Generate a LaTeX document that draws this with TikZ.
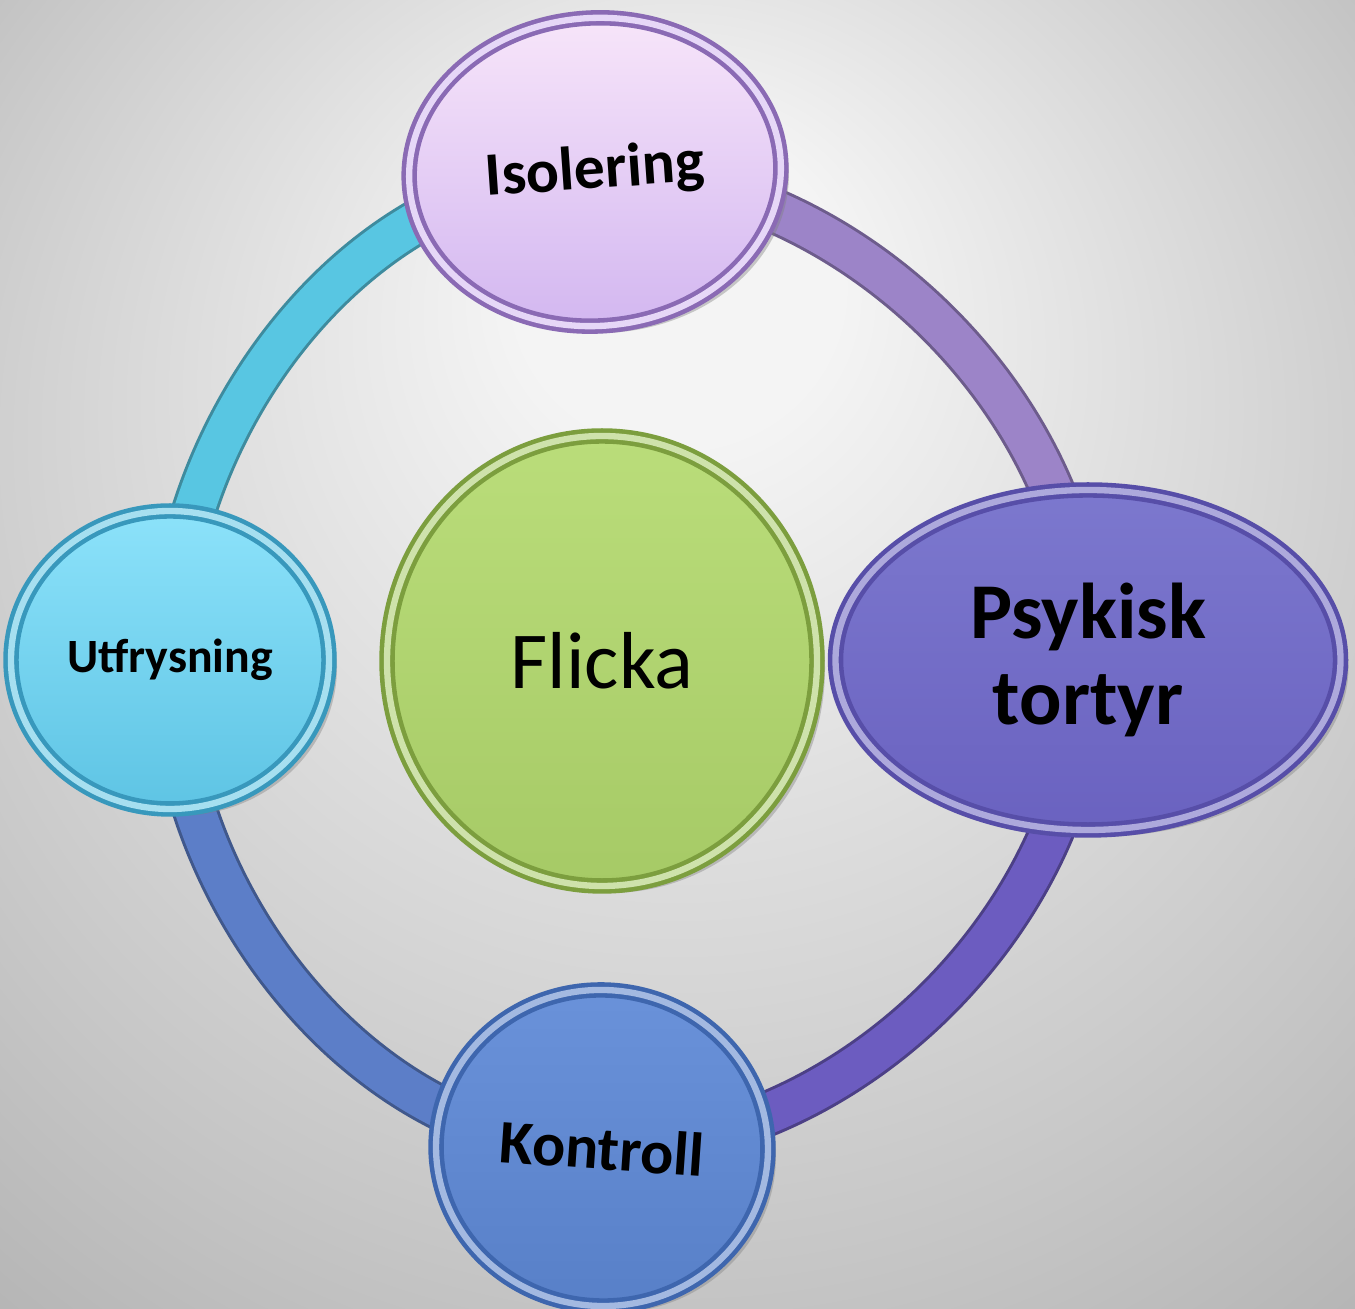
\documentclass[tikz,border=0pt]{standalone}
\usepackage{fontspec}
\setmainfont{Carlito}
\usetikzlibrary{shapes.geometric,shadows}

\definecolor{bgLight}{HTML}{F4F4F4}
\definecolor{bgMid}{HTML}{C6C6C6}
\definecolor{bgDark}{HTML}{9E9E9E}
\definecolor{isoTop}{HTML}{F8E6FA}
\definecolor{isoBot}{HTML}{D2B6F0}
\definecolor{isoRim}{HTML}{8A6AB4}
\definecolor{psyTop}{HTML}{7C78CE}
\definecolor{psyBot}{HTML}{6A62C0}
\definecolor{psyRim}{HTML}{574EA8}
\definecolor{utfTop}{HTML}{8CE2FA}
\definecolor{utfBot}{HTML}{5EC4E4}
\definecolor{utfRim}{HTML}{3898BC}
\definecolor{konTop}{HTML}{6A92DA}
\definecolor{konBot}{HTML}{5880C8}
\definecolor{konRim}{HTML}{3E66AE}
\definecolor{fliTop}{HTML}{BADD7A}
\definecolor{fliBot}{HTML}{A6CA66}
\definecolor{fliRim}{HTML}{7C9E3E}
\definecolor{ringTL}{HTML}{58C6E2}
\definecolor{ringTR}{HTML}{9C84C8}
\definecolor{ringBR}{HTML}{6C5CC0}
\definecolor{ringBL}{HTML}{5C7EC8}

\pgfdeclarelayer{back}
\pgfdeclarelayer{band}
\pgfsetlayers{back,band,main}

\pgfdeclareradialshading{bgglow}{\pgfpoint{0bp}{16bp}}{color(0bp)=(bgLight); color(6bp)=(bgLight); color(30bp)=(bgMid); color(50bp)=(bgDark)}

\tikzset{
  bubble/.style n args={3}{ellipse, inner sep=0pt, align=center, text=black,
    top color=#1, bottom color=#2, draw=#3, line width=1.3pt,
    double=white!45!#2, double distance=1.8pt,
    drop shadow={shadow xshift=0.08cm, shadow yshift=-0.07cm, opacity=0.4}},
  bandline/.style={line width=0.4cm, draw=#1, looseness=0.93,
    preaction={draw=#1!70!black, line width=0.46cm}},
}

\begin{document}
\begin{tikzpicture}
  % backdrop
  \begin{pgfonlayer}{back}
    \shade[shading=bgglow] (0,0) rectangle (13.55,13.09);
  \end{pgfonlayer}
  \useasboundingbox (0,0) rectangle (13.55,13.09);

  % outer bubbles
  \node[bubble={isoTop}{isoBot}{isoRim}, minimum width=3.72cm, minimum height=3.08cm,
    rotate=4, font=\bfseries\fontsize{17.5}{20}\selectfont] (iso) at (5.95,11.37) {Isolering};
  \node[bubble={psyTop}{psyBot}{psyRim}, minimum width=5.05cm, minimum height=3.40cm,
    font=\bfseries\fontsize{22.5}{24.5}\selectfont] (psy) at (10.88,6.49) {Psykisk\\tortyr};
  \node[bubble={konTop}{konBot}{konRim}, minimum width=3.32cm, minimum height=3.16cm,
    rotate=-4, font=\bfseries\fontsize{17.6}{20}\selectfont] (kon) at (6.02,1.61) {Kontroll};
  \node[bubble={utfTop}{utfBot}{utfRim}, minimum width=3.18cm, minimum height=2.98cm,
    font=\bfseries\fontsize{13.6}{16}\selectfont] (utf) at (1.70,6.49) {Utfrysning};

  % centre
  \node[bubble={fliTop}{fliBot}{fliRim}, minimum width=4.30cm, minimum height=4.50cm,
    font=\fontsize{23}{26}\selectfont] (fli) at (6.02,6.48) {Flicka};

  % ring
  \begin{pgfonlayer}{band}
    \draw[bandline=ringTL] (utf.center) to[out=90,in=180] (iso.center);
    \draw[bandline=ringTR] (iso.center) to[out=0,in=90] (psy.center);
    \draw[bandline=ringBR] (psy.center) to[out=-90,in=0] (kon.center);
    \draw[bandline=ringBL] (kon.center) to[out=180,in=-90] (utf.center);
  \end{pgfonlayer}
\end{tikzpicture}
\end{document}
